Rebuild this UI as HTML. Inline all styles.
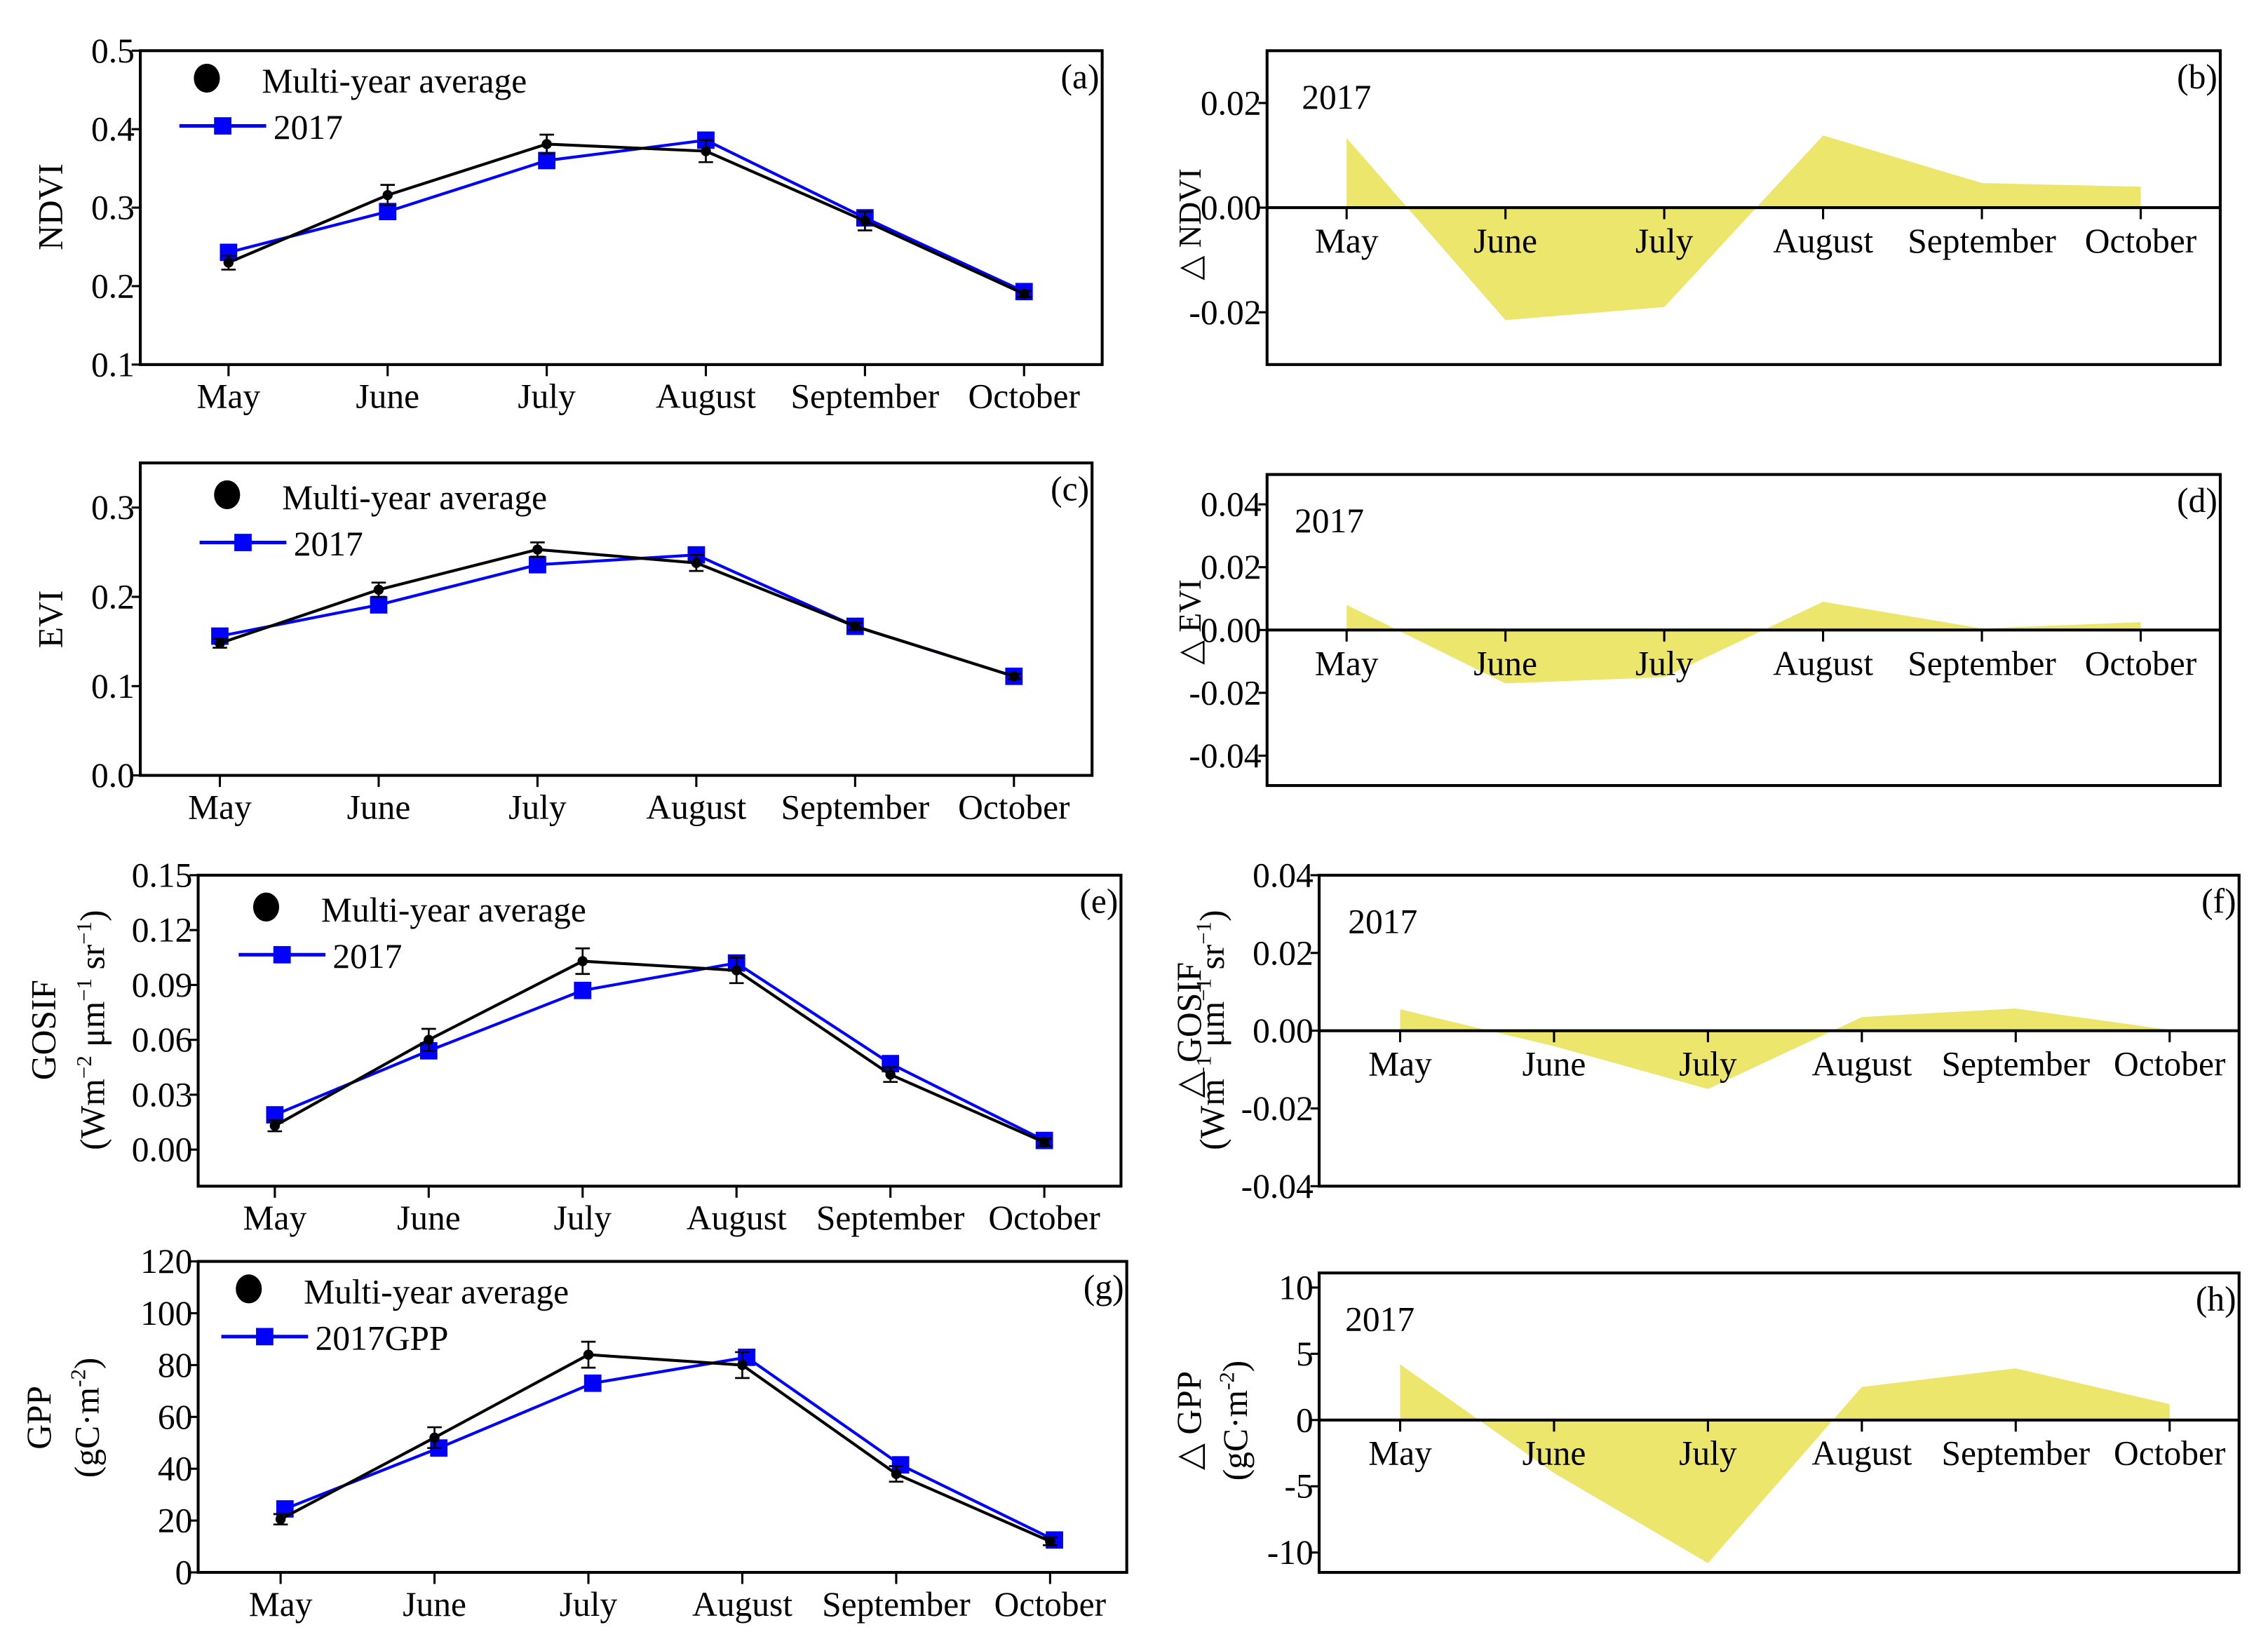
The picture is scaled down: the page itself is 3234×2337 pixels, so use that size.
<!DOCTYPE html>
<html><head><meta charset="utf-8">
<style>
html,body{margin:0;padding:0;background:#fff;}
svg{display:block;}
text{font-family:"Liberation Serif",serif;fill:#000;}
</style></head>
<body>
<svg id="fig" xmlns="http://www.w3.org/2000/svg" width="3234" height="2337" viewBox="0 0 1568 1133"></svg>
<script>
const months = ["May","June","July","August","September","October"];
// panel a NDVI
const ndviAvg = [0.230,0.316,0.381,0.372,0.283,0.190];
const ndviErr = [0.009,0.013,0.012,0.014,0.012,0.004];
const ndvi2017 = [0.243,0.295,0.360,0.386,0.287,0.193];
const ndviTicks = ["0.1","0.2","0.3","0.4","0.5"];
// panel b delta NDVI
const dNdvi = [0.0133,-0.0215,-0.0190,0.0138,0.0047,0.0040];
const dNdviTicks = ["-0.02","0.00","0.02"];
// panel c EVI
const eviAvg = [0.148,0.208,0.253,0.238,0.167,0.111];
const eviErr = [0.005,0.008,0.008,0.009,0.004,0.003];
const evi2017 = [0.156,0.191,0.236,0.247,0.167,0.111];
const eviTicks = ["0.0","0.1","0.2","0.3"];
// panel d delta EVI
const dEvi = [0.0080,-0.0170,-0.0150,0.0090,0.0005,0.0025];
const dEviTicks = ["-0.04","-0.02","0.00","0.02","0.04"];
// panel e GOSIF
const sifAvg = [0.013,0.060,0.103,0.098,0.041,0.004];
const sifErr = [0.003,0.006,0.007,0.007,0.004,0.002];
const sif2017 = [0.019,0.054,0.087,0.102,0.047,0.005];
const sifTicks = ["0.00","0.03","0.06","0.09","0.12","0.15"];
// panel f delta GOSIF
const dSif = [0.0055,-0.0040,-0.0150,0.0035,0.0057,0.0002];
const dSifTicks = ["-0.04","-0.02","0.00","0.02","0.04"];
// panel g GPP
const gppAvg = [20.5,52,84,80,38,12];
const gppErr = [2,4,5,5,3,1.5];
const gpp2017 = [24.5,48,73,83,41.5,12.5];
const gppTicks = ["0","20","40","60","80","100","120"];
// panel h delta GPP
const dGpp = [4.2,-4.0,-10.8,2.5,3.9,1.2];
const dGppTicks = ["-10","-5","0","5","10"];

const NS="http://www.w3.org/2000/svg";
const svg=document.getElementById('fig');
function el(tag,attrs,parent,txt){const e=document.createElementNS(NS,tag);for(const k in attrs)e.setAttribute(k,attrs[k]);if(txt!==undefined)e.textContent=txt;(parent||svg).appendChild(e);return e;}

function linePanel(c){
  const g=el('g',{});
  
  
  const x=i=>c.x0+(c.x1-c.x0)*i/(months.length-1);
  const y=v=>c.bottom-(v-c.ymin)/(c.ymax-c.ymin)*(c.bottom-c.top);
  const box=el('rect',{x:c.L,y:c.top,width:c.R-c.L,height:c.bottom-c.top,fill:'none',stroke:'#000','stroke-width':2},g);
  
  
  c.ticks.forEach(t=>{const v=parseFloat(t);const yy=y(v);
    el('line',{x1:c.L-6,x2:c.L,y1:yy,y2:yy,stroke:'#000','stroke-width':1.5},g);
    const tx=el('text',{x:c.L-4,y:yy+8,'text-anchor':'end','font-size':24},g,t);
    
    
  });
  months.forEach((m,i)=>{
    el('line',{x1:x(i),x2:x(i),y1:c.bottom,y2:c.bottom+8,stroke:'#000','stroke-width':1.5},g);
    const tx=el('text',{x:x(i),y:c.bottom+30,'text-anchor':'middle','font-size':24},g,m);
    
    
  });
  // blue 2017
  const off=c.boff||0;
  const bl=el('polyline',{points:c.s2.map((v,i)=>(x(i)+off)+','+y(v)).join(' '),fill:'none',stroke:'#0000ff','stroke-width':2},g);
  
  
  c.s2.forEach((v,i)=>{const r=el('rect',{x:x(i)+off-6,y:y(v)-6,width:12,height:12,fill:'#0000ff'},g);
    
    });
  // black avg
  const kl=el('polyline',{points:c.s1.map((v,i)=>x(i)+','+y(v)).join(' '),fill:'none',stroke:'#000','stroke-width':2},g);
  
  
  c.s1.forEach((v,i)=>{const e=c.err[i];
    const eb=el('path',{d:`M${x(i)},${y(v+e)}V${y(v-e)}M${x(i)-5},${y(v+e)}h10M${x(i)-5},${y(v-e)}h10`,stroke:'#000','stroke-width':1.3,fill:'none'},g);
    
    
    const p=el('circle',{cx:x(i),cy:y(v),r:3.5,fill:'#000'},g);
    
    });
  // legend
  const lg=el('g',{},g);
  
  
  el('ellipse',{cx:c.lx,cy:c.ly,rx:9,ry:10,fill:'#000'},lg);
  el('text',{x:c.lx+38,y:c.ly+10,'font-size':24},lg,'Multi-year average');
  el('line',{x1:c.lx-19,x2:c.lx+41,y1:c.ly+33,y2:c.ly+33,stroke:'#0000ff','stroke-width':2.5},lg);
  el('rect',{x:c.lx+5,y:c.ly+27,width:12,height:12,fill:'#0000ff'},lg);
  el('text',{x:c.lx+46,y:c.ly+42,'font-size':24},lg,c.leg2);
  const pl=el('text',{x:c.R-2,y:c.top+26,'text-anchor':'end','font-size':24},g,'('+c.id+')');
  
  
  return g;
}

function areaPanel(c){
  const g=el('g',{});
  
  
  const x=i=>c.x0+(c.x1-c.x0)*i/(months.length-1);
  const y=v=>c.bottom-(v-c.ymin)/(c.ymax-c.ymin)*(c.bottom-c.top);
  const pts=[x(0)+','+y(0)].concat(c.vals.map((v,i)=>x(i)+','+y(v))).concat([x(months.length-1)+','+y(0)]);
  const ar=el('polygon',{points:pts.join(' '),fill:'#ece66d'},g);
  
  
  const box=el('path',{d:`M${c.L},${c.top}H${c.R}V${c.bottom}H${c.L}Z`,fill:'none',stroke:'#000','stroke-width':2},g);
  
  
  const z=el('line',{x1:c.L,x2:c.R,y1:y(0),y2:y(0),stroke:'#000','stroke-width':2},g);
  
  
  c.ticks.forEach(t=>{const yy=y(parseFloat(t));
    el('line',{x1:c.L-6,x2:c.L,y1:yy,y2:yy,stroke:'#000','stroke-width':1.5},g);
    const tx=el('text',{x:c.L-4,y:yy+8,'text-anchor':'end','font-size':24},g,t);
    
    });
  months.forEach((m,i)=>{
    el('line',{x1:x(i),x2:x(i),y1:y(0),y2:y(0)+8,stroke:'#000','stroke-width':1.5},g);
    const tx=el('text',{x:x(i),y:y(0)+31,'text-anchor':'middle','font-size':24},g,m);
    
    });
  const yr=el('text',{x:c.L+c.yrdx,y:c.top+40,'font-size':24},g,'2017');
  
  
  const pl=el('text',{x:c.R-2,y:c.top+26,'text-anchor':'end','font-size':24},g,'('+c.id+')');
  
  
}

linePanel({id:'a',L:97,R:762,top:35,bottom:252,ymin:0.1,ymax:0.5,x0:158,x1:708,s1:ndviAvg,err:ndviErr,s2:ndvi2017,ticks:ndviTicks,lx:143,ly:54,leg2:'2017'});
areaPanel({id:'b',L:876,R:1535,top:35,bottom:252,ymin:-0.03,ymax:0.03,x0:931,x1:1480,vals:dNdvi,ticks:dNdviTicks,yrdx:24});
linePanel({id:'c',L:97,R:755,top:320,bottom:536,ymin:0,ymax:0.35,x0:152,x1:701,s1:eviAvg,err:eviErr,s2:evi2017,ticks:eviTicks,lx:157,ly:342,leg2:'2017'});
areaPanel({id:'d',L:876,R:1535,top:328,bottom:543,ymin:-0.0495,ymax:0.0495,x0:931,x1:1480,vals:dEvi,ticks:dEviTicks,yrdx:19});
linePanel({id:'e',L:137,R:775,top:605,bottom:820,ymin:-0.02,ymax:0.15,x0:190,x1:722,s1:sifAvg,err:sifErr,s2:sif2017,ticks:sifTicks,lx:184,ly:627,leg2:'2017'});
areaPanel({id:'f',L:912,R:1548,top:605,bottom:820,ymin:-0.04,ymax:0.04,x0:968,x1:1500,vals:dSif,ticks:dSifTicks,yrdx:20});
linePanel({id:'g',L:137,R:779,top:872,bottom:1087,ymin:0,ymax:120,x0:194,x1:726,s1:gppAvg,err:gppErr,s2:gpp2017,ticks:gppTicks,lx:172,ly:891,leg2:'2017GPP',boff:3});
areaPanel({id:'h',L:912,R:1548,top:880,bottom:1087,ymin:-11.5,ymax:11.1,x0:968,x1:1500,vals:dGpp,ticks:dGppTicks,yrdx:18});
</script>
<svg style="position:absolute;left:0;top:0" width="3234" height="2337" viewBox="0 0 1568 1133" xmlns="http://www.w3.org/2000/svg">
<g font-family="Liberation Serif, serif" font-size="24">
<text transform="translate(43,143) rotate(-90)" text-anchor="middle">NDVI</text>
<text transform="translate(43,428) rotate(-90)" text-anchor="middle">EVI</text>
<text transform="translate(38,712) rotate(-90)" text-anchor="middle" font-family="Liberation Sans, sans-serif">GOSIF</text>
<text transform="translate(72,712) rotate(-90)" text-anchor="middle" font-family="Liberation Sans, sans-serif">(Wm<tspan dy="-9" font-size="15">−2</tspan><tspan dy="9"> μm</tspan><tspan dy="-9" font-size="15">−1</tspan><tspan dy="9"> sr</tspan><tspan dy="-9" font-size="15">−1</tspan><tspan dy="9">)</tspan></text>
<text transform="translate(35,980) rotate(-90)" text-anchor="middle">GPP</text>
<text transform="translate(68,980) rotate(-90)" text-anchor="middle">(gC·m<tspan dy="-9" font-size="15">-2</tspan><tspan dy="9">)</tspan></text>
<text transform="translate(830,155) rotate(-90)" text-anchor="middle" font-family="DejaVu Sans, sans-serif" font-size="22">△ NDVI</text>
<text transform="translate(830,430) rotate(-90)" text-anchor="middle" font-family="DejaVu Sans, sans-serif" font-size="22">△ EVI</text>
<text transform="translate(830,712) rotate(-90)" text-anchor="middle">△ GOSIF</text>
<text transform="translate(846,712) rotate(-90)" text-anchor="middle">(Wm<tspan dy="-9" font-size="15">−1</tspan><tspan dy="9"> μm</tspan><tspan dy="-9" font-size="15">−1</tspan><tspan dy="9"> sr</tspan><tspan dy="-9" font-size="15">−1</tspan><tspan dy="9">)</tspan></text>
<text transform="translate(830,982) rotate(-90)" text-anchor="middle">△ GPP</text>
<text transform="translate(862,982) rotate(-90)" text-anchor="middle">(gC·m<tspan dy="-9" font-size="15">-2</tspan><tspan dy="9">)</tspan></text>
</g>
</svg>
</body></html>
